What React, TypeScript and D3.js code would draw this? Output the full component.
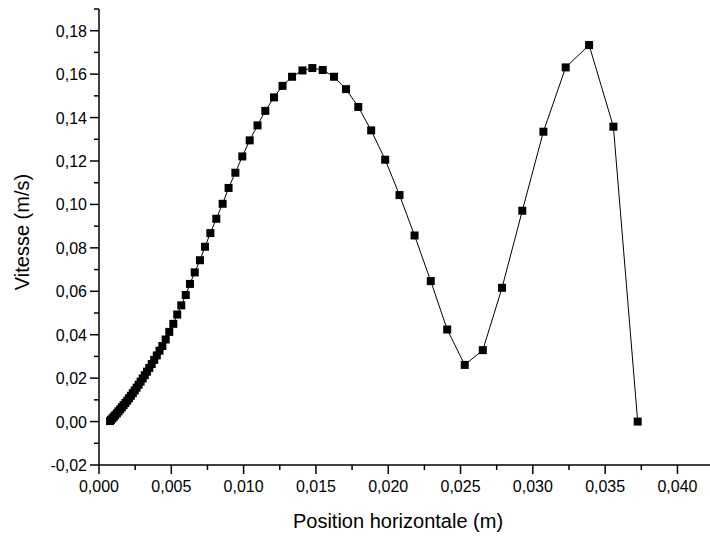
import React from "react";
import * as d3 from "d3";

// Position horizontale (m)
const xValues: number[] = [
  0.000761, 0.00083, 0.000927, 0.001024, 0.001127, 0.001238, 0.001349, 0.001466,
  0.001584, 0.001701, 0.001826, 0.00195, 0.002075, 0.002206, 0.002337, 0.002469,
  0.0026, 0.002739, 0.002877, 0.003022, 0.003167, 0.00332, 0.003479, 0.003645,
  0.003817, 0.003997, 0.004184, 0.00438, 0.00461, 0.00486, 0.00514, 0.00541,
  0.00569, 0.006, 0.00629, 0.00662, 0.00698, 0.00733, 0.0077, 0.00811, 0.00855,
  0.00896, 0.00943, 0.00991, 0.01042, 0.01096, 0.0115, 0.0121, 0.01269, 0.01335,
  0.01407, 0.01475, 0.01547, 0.01625, 0.01708, 0.01793, 0.01882, 0.01979,
  0.02078, 0.02182, 0.02294, 0.02408, 0.02529, 0.02654, 0.02787, 0.02927,
  0.03073, 0.03227, 0.03389, 0.03557, 0.03725,
];

// Vitesse (m/s)
const yValues: number[] = [
  0.00023, 0.00078, 0.00147, 0.00221, 0.003, 0.00382, 0.0047, 0.00562, 0.00659,
  0.00756, 0.00857, 0.00963, 0.01074, 0.01189, 0.01309, 0.01433, 0.01562,
  0.01696, 0.01839, 0.01986, 0.02138, 0.023, 0.0247, 0.0265, 0.02843, 0.03046,
  0.03263, 0.0348, 0.0378, 0.0413, 0.045, 0.0493, 0.0535, 0.0583, 0.0634,
  0.0687, 0.0743, 0.0805, 0.0868, 0.0934, 0.1003, 0.1076, 0.1146, 0.1221,
  0.1295, 0.1364, 0.1431, 0.1493, 0.1546, 0.1588, 0.1617, 0.1628, 0.1619,
  0.1588, 0.1531, 0.1449, 0.1341, 0.1206, 0.1043, 0.0857, 0.0647, 0.0424,
  0.0261, 0.0329, 0.0616, 0.0971, 0.1335, 0.1631, 0.1734, 0.1358, 0.0,
];

const xMajorTicks: number[] = [0, 0.005, 0.01, 0.015, 0.02, 0.025, 0.03, 0.035, 0.04];
const xMinorTicks: number[] = [0.0025, 0.0075, 0.0125, 0.0175, 0.0225, 0.0275, 0.0325, 0.0375, 0.0425];
const yMajorTicks: number[] = [-0.02, 0, 0.02, 0.04, 0.06, 0.08, 0.1, 0.12, 0.14, 0.16, 0.18];
const yMinorTicks: number[] = [-0.01, 0.01, 0.03, 0.05, 0.07, 0.09, 0.11, 0.13, 0.15, 0.17, 0.19];

const xTitle = "Position horizontale (m)";
const yTitle = "Vitesse (m/s)";

const W = 710;
const H = 540;
const FONT = "Arial, 'Liberation Sans', sans-serif";

const fmt = (v: number, digits: number) => {
  const s = Math.abs(v).toFixed(digits).replace(".", ",");
  return v < -1e-12 ? "-" + s : s;
};

export default function App() {
  const x = d3.scaleLinear().domain([0, 0.04225]).range([99, 710]);
  const y = d3.scaleLinear().domain([-0.02, 0.19]).range([465, 9]);
  const pts = xValues.map((v, i) => [v, yValues[i]] as [number, number]);
  const line = d3
    .line<[number, number]>()
    .x((d) => x(d[0]))
    .y((d) => y(d[1]));
  const x0 = x(0);
  const yBase = y(-0.02);
  const ms = 8;

  return (
    <svg
      width={W}
      height={H}
      style={{ position: "absolute", left: 0, top: 0, background: "#fff" }}
      fontFamily={FONT}
    >
      <rect x={0} y={0} width={W} height={H} fill="#fff" />
      {/* data line */}
      <path d={line(pts) || ""} fill="none" stroke="#000" strokeWidth={1} />
      {pts.map((d, i) => (
        <rect
          key={i}
          x={x(d[0]) - ms / 2}
          y={y(d[1]) - ms / 2}
          width={ms}
          height={ms}
          fill="#000"
        />
      ))}
      {/* axes */}
      <line x1={x0} x2={x0} y1={y(0.19)} y2={yBase} stroke="#000" strokeWidth={1.5} />
      <line x1={x0} x2={710} y1={yBase} y2={yBase} stroke="#000" strokeWidth={1.5} />
      {xMajorTicks.map((t) => (
        <g key={"xm" + t}>
          <line x1={x(t)} x2={x(t)} y1={yBase} y2={yBase + 9} stroke="#000" strokeWidth={1.5} />
          <text x={x(t)} y={yBase + 27} fontSize={16} textAnchor="middle" fill="#000">
            {fmt(t, 3)}
          </text>
        </g>
      ))}
      {xMinorTicks.map((t) => (
        <line key={"xn" + t} x1={x(t)} x2={x(t)} y1={yBase} y2={yBase + 5} stroke="#000" strokeWidth={1.5} />
      ))}
      {yMajorTicks.map((t) => (
        <g key={"ym" + t}>
          <line x1={x0 - 9} x2={x0} y1={y(t)} y2={y(t)} stroke="#000" strokeWidth={1.5} />
          <text x={x0 - 12} y={y(t) + 6} fontSize={16} textAnchor="end" fill="#000">
            {fmt(t, 2)}
          </text>
        </g>
      ))}
      {yMinorTicks.map((t) => (
        <line key={"yn" + t} x1={x0 - 5} x2={x0} y1={y(t)} y2={y(t)} stroke="#000" strokeWidth={1.5} />
      ))}
      <text x={398} y={528} fontSize={20} textAnchor="middle" fill="#000">
        {xTitle}
      </text>
      <text
        transform={`translate(29, 232) rotate(-90)`}
        fontSize={20}
        textAnchor="middle"
        fill="#000"
      >
        {yTitle}
      </text>
    </svg>
  );
}
